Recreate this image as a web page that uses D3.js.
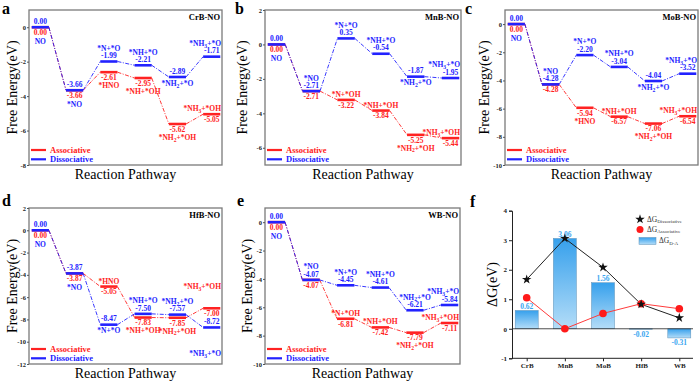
<!DOCTYPE html>
<html>
<head>
<meta charset="utf-8">
<script src="https://cdn.jsdelivr.net/npm/d3@7"></script>
<style>
  body { margin: 0; background: #fff; }
  text { font-family: "Liberation Serif", "Times New Roman", serif; }
</style>
</head>
<body>
<svg id="chart" width="700" height="381"></svg>
<script>
// ---- data: free energy (eV) of each step ----
const steps = [0, 1, 2, 3, 4, 5];
const dissNames = ["NO", "*NO", "*N+*O", "*NH+*O", "*NH2+*O", "*NH3+*O"];
const assoNamesHNO = ["", "", "*HNO", "*NH+*OH", "*NH2+*OH", "*NH3+*OH"];
const assoNamesNOH = ["", "", "*N+*OH", "*NH+*OH", "*NH2+*OH", "*NH3+*OH"];

const crbDiss = [0.00, -3.66, -1.99, -2.21, -2.89, -1.71];
const crbAsso = [0.00, -3.66, -2.61, -2.95, -5.62, -5.05];
const mnbDiss = [0.00, -2.71, 0.35, -0.54, -1.87, -1.95];
const mnbAsso = [0.00, -2.71, -3.22, -3.84, -5.25, -5.44];
const mobDiss = [0.00, -4.28, -2.20, -3.04, -4.04, -3.52];
const mobAsso = [0.00, -4.28, -5.94, -6.57, -7.06, -6.54];
const hfbDiss = [0.00, -3.87, -8.47, -7.50, -7.57, -8.72];
const hfbAsso = [0.00, -3.87, -5.05, -7.83, -7.85, -7.00];
const wbDiss = [0.00, -4.07, -4.45, -4.61, -6.21, -5.84];
const wbAsso = [0.00, -4.07, -6.81, -7.42, -7.79, -7.11];

// panel f
const fCats = ["CrB", "MnB", "MoB", "HfB", "WB"];
const fDiff = [0.62, 3.06, 1.56, -0.02, -0.31];
const fDiss = [1.67, 3.06, 2.08, 0.83, 0.37];
const fAsso = [1.05, 0.00, 0.52, 0.85, 0.68];

// label placement: u = above, d = below, U / D = further away
const crbDissPos = ["d", "d", "u", "u", "d", "u"], crbAssoPos = ["", "", "d", "d", "d", "u"];
const mnbDissPos = ["d", "u", "u", "u", "d", "u"], mnbAssoPos = ["", "", "u", "u", "d", "u"];
const mobDissPos = ["d", "u", "u", "u", "d", "u"], mobAssoPos = ["", "", "d", "u", "d", "u"];
const hfbDissPos = ["d", "d", "d", "u", "u", "D"], hfbAssoPos = ["", "", "u", "d", "d", "U"];
const wbDissPos = ["d", "u", "u", "u", "u", "u"], wbAssoPos = ["", "", "u", "u", "d", "u"];

const BLUE = "#2222ff", RED = "#ff2222";
const svg = d3.select("#chart");

const panels = [
  {letter: "a", lx: 2, ly: 14, title: "CrB-NO", x0: 29, x1: 222, y0: 10, y1: 165, ymin: -8, ymax: 1, ylab: 13,
   diss: crbDiss, asso: crbAsso, aNames: assoNamesHNO, dPos: crbDissPos, aPos: crbAssoPos},
  {letter: "b", lx: 235, ly: 14, title: "MnB-NO", x0: 265, x1: 461, y0: 10, y1: 165, ymin: -7, ymax: 2, ylab: 243,
   diss: mnbDiss, asso: mnbAsso, aNames: assoNamesNOH, dPos: mnbDissPos, aPos: mnbAssoPos},
  {letter: "c", lx: 465, ly: 14, title: "MoB-NO", x0: 505, x1: 698, y0: 10, y1: 165, ymin: -10, ymax: 1, ylab: 485,
   diss: mobDiss, asso: mobAsso, aNames: assoNamesHNO, dPos: mobDissPos, aPos: mobAssoPos},
  {letter: "d", lx: 2, ly: 206, title: "HfB-NO", x0: 29, x1: 222, y0: 208, y1: 364, ymin: -12, ymax: 2, ylab: 13,
   diss: hfbDiss, asso: hfbAsso, aNames: assoNamesHNO, dPos: hfbDissPos, aPos: hfbAssoPos},
  {letter: "e", lx: 237, ly: 206, title: "WB-NO", x0: 265, x1: 460, y0: 208, y1: 364, ymin: -10, ymax: 1, ylab: 248,
   diss: wbDiss, asso: wbAsso, aNames: assoNamesNOH, dPos: wbDissPos, aPos: wbAssoPos}
];

// species text: digits right after H become subscripts (NH2, NH3)
function richText(sel, str) {
  const parts = str.split(/(?<=H)(\d)/).filter(s => s !== "");
  let back = 0;
  parts.forEach(t => {
    if (/^\d$/.test(t)) {
      sel.append("tspan").attr("dy", 1.8).attr("font-size", "0.75em").text(t);
      back = -1.8;
    } else {
      const ts = sel.append("tspan").text(t);
      if (back) ts.attr("dy", back);
      back = 0;
    }
  });
}

function clampText(t, x0, x1) {
  const w = t.node().getComputedTextLength();
  const cx = +t.attr("x");
  if (cx + w / 2 > x1 - 1) t.attr("x", x1 - 1 - w / 2);
  if (cx - w / 2 < x0 + 1) t.attr("x", x0 + 1 + w / 2);
}

function drawPanel(p) {
  const g = svg.append("g");
  const x = d3.scaleLinear().domain([-0.08, 5.55]).range([p.x0, p.x1]);
  const y = d3.scaleLinear().domain([p.ymin, p.ymax]).range([p.y1, p.y0]);

  g.append("rect")
    .attr("x", p.x0).attr("y", p.y0)
    .attr("width", p.x1 - p.x0).attr("height", p.y1 - p.y0)
    .attr("fill", "none").attr("stroke", "#7a7a7a").attr("stroke-width", 1.3);

  const ticks = d3.range(-12, 3, 2).filter(v => v >= p.ymin && v <= p.ymax);
  const ax = g.append("g").attr("transform", `translate(${p.x0},0)`)
    .call(d3.axisLeft(y).tickValues(ticks).tickSize(2).tickPadding(1).tickFormat(d => String(d)));
  ax.select(".domain").remove();
  ax.selectAll("line").attr("stroke", "#555");
  ax.selectAll("text").attr("font-size", 6.5).attr("font-weight", "bold")
    .attr("font-family", "Liberation Serif, serif").attr("fill", "#222");

  // letter, title, axis titles
  svg.append("text").attr("x", p.lx).attr("y", p.ly).attr("font-size", 16).attr("font-weight", "bold").text(p.letter);
  g.append("text").attr("x", p.x1 - 2).attr("y", p.y0 + 10).attr("text-anchor", "end")
    .attr("font-size", 8.5).attr("font-weight", "bold").text(p.title);
  g.append("text").attr("transform", `translate(${p.ylab + 4},${(p.y0 + p.y1) / 2}) rotate(-90)`)
    .attr("text-anchor", "middle").attr("font-size", 14).text("Free Energy(eV)");
  g.append("text").attr("x", (p.x0 + p.x1) / 2).attr("y", p.y1 + 13.5)
    .attr("text-anchor", "middle").attr("font-size", 14).text("Reaction Pathway");

  // energy levels: associative first, dissociative on top
  [{vals: p.asso, color: RED}, {vals: p.diss, color: BLUE}].forEach(s => {
    g.append("g").selectAll("line").data(steps.slice(0, -1)).join("line")
      .attr("x1", i => x(i + 0.5)).attr("y1", i => y(s.vals[i]))
      .attr("x2", i => x(i + 1)).attr("y2", i => y(s.vals[i + 1]))
      .attr("stroke", s.color).attr("stroke-width", 0.9).attr("stroke-dasharray", "4,1.5,1,1.5");
    g.append("g").selectAll("line").data(steps).join("line")
      .attr("x1", i => x(i)).attr("x2", i => x(i + 0.5))
      .attr("y1", i => y(s.vals[i])).attr("y2", i => y(s.vals[i]))
      .attr("stroke", s.color).attr("stroke-width", 2.6);
  });

  const lab = (cx, cy, color, str, rich) => {
    const t = g.append("text").attr("x", cx).attr("y", cy).attr("text-anchor", "middle")
      .attr("font-size", 7.5).attr("font-weight", "bold").attr("fill", color);
    if (rich) richText(t, str); else t.text(str);
    clampText(t, p.x0, p.x1);
    return t;
  };

  steps.forEach(i => {
    const cx = x(i + 0.25);
    const yd = y(p.diss[i]), ya = y(p.asso[i]);
    lab(cx, yd - 3.3, BLUE, p.diss[i].toFixed(2));
    lab(cx, ya + 7.8, RED, p.asso[i].toFixed(2));
    const same = p.diss[i] === p.asso[i];
    const dOff = {u: -10.6, d: same ? 16.8 : 8.8, D: 29};
    lab(cx, yd + dOff[p.dPos[i]], BLUE, dissNames[i], true);
    if (p.aNames[i]) {
      const aOff = {u: -3, U: -19, d: 15.8};
      lab(cx, ya + aOff[p.aPos[i]], RED, p.aNames[i], true);
    }
  });

  // legend
  [["Associative", RED, p.y1 - 15], ["Dissociative", BLUE, p.y1 - 5.7]].forEach(([name, c, ly]) => {
    g.append("line").attr("x1", p.x0 + 2).attr("x2", p.x0 + 17).attr("y1", ly).attr("y2", ly)
      .attr("stroke", c).attr("stroke-width", 2.2);
    g.append("text").attr("x", p.x0 + 21).attr("y", ly + 2.8).attr("font-size", 8.5)
      .attr("font-weight", "bold").attr("fill", c).text(name);
  });
}

panels.forEach(drawPanel);

// ---- panel f ----
(function () {
  const x0 = 512, x1 = 693;
  const fx = d3.scalePoint().domain(fCats).range([526.7, 679.3]);
  const fy = d3.scaleLinear().domain([-1, 4]).range([358.3, 210.7]);
  const g = svg.append("g");

  const defs = svg.append("defs");
  const grad = defs.append("linearGradient").attr("id", "barGrad").attr("x1", 0).attr("y1", 0).attr("x2", 0).attr("y2", 1);
  grad.append("stop").attr("offset", "0%").attr("stop-color", "#36a0ec");
  grad.append("stop").attr("offset", "100%").attr("stop-color", "#b4ddf8");

  svg.append("text").attr("x", 470).attr("y", 207).attr("font-size", 16).attr("font-weight", "bold").text("f");

  const bw = 23;
  g.append("g").selectAll("rect").data(fCats).join("rect")
    .attr("x", (c) => fx(c) - bw / 2)
    .attr("y", (c, i) => fy(Math.max(0, fDiff[i])))
    .attr("width", bw)
    .attr("height", (c, i) => Math.abs(fy(fDiff[i]) - fy(0)))
    .attr("fill", "url(#barGrad)").attr("stroke", "#5d8fb5").attr("stroke-width", 0.5);

  g.append("line").attr("x1", x0).attr("x2", x1).attr("y1", fy(0)).attr("y2", fy(0))
    .attr("stroke", "#222").attr("stroke-width", 0.8);

  g.append("g").selectAll("text").data(fCats).join("text")
    .attr("x", c => fx(c))
    .attr("y", (c, i) => fDiff[i] >= 0 ? fy(fDiff[i]) - 1.5 : fy(fDiff[i]) + 7.5)
    .attr("text-anchor", "middle").attr("font-size", 7.5).attr("font-weight", "bold")
    .attr("fill", "#3aa6f0").text((c, i) => fDiff[i].toFixed(2));

  const line = d3.line().x((d, i) => fx(fCats[i])).y(d => fy(d));
  g.append("path").datum(fAsso).attr("d", line).attr("fill", "none").attr("stroke", "#ff3b3b").attr("stroke-width", 1);
  g.append("path").datum(fDiss).attr("d", line).attr("fill", "none").attr("stroke", "#222").attr("stroke-width", 1);

  g.append("g").selectAll("circle").data(fAsso).join("circle")
    .attr("cx", (d, i) => fx(fCats[i])).attr("cy", d => fy(d)).attr("r", 3.8).attr("fill", "#ff1a1a");
  const star = d3.symbol().type(d3.symbolStar).size(28);
  g.append("g").selectAll("path").data(fDiss).join("path")
    .attr("transform", (d, i) => `translate(${fx(fCats[i])},${fy(d)})`).attr("d", star).attr("fill", "#111");

  const yAx = g.append("g").attr("transform", `translate(${x0},0)`)
    .call(d3.axisLeft(fy).ticks(5).tickSize(3).tickPadding(2).tickFormat(d => String(d)));
  const xAx = g.append("g").attr("transform", `translate(0,${fy(-1)})`)
    .call(d3.axisBottom(fx).tickSize(3).tickPadding(2));
  xAx.select(".domain").attr("d", `M${x0},0H${x1}`);
  [yAx, xAx].forEach(a => {
    a.selectAll("text").attr("font-size", 7).attr("font-weight", "bold").attr("font-family", "Liberation Serif, serif").attr("fill", "#222");
    a.selectAll("line,path").attr("stroke", "#222");
  });

  g.append("text").attr("transform", `translate(497,${fy(1.5)}) rotate(-90)`)
    .attr("text-anchor", "middle").attr("font-size", 14).text("ΔG(eV)");

  // legend
  const lg = g.append("g");
  lg.append("path").attr("transform", "translate(640,219.3)").attr("d", star).attr("fill", "#111");
  lg.append("circle").attr("cx", 640).attr("cy", 229.5).attr("r", 3.5).attr("fill", "#ff1a1a");
  lg.append("rect").attr("x", 639).attr("y", 237.5).attr("width", 17).attr("height", 7)
    .attr("fill", "url(#barGrad)").attr("stroke", "#5d8fb5").attr("stroke-width", 0.5);
  [["Dissociative", 647, 221.5], ["Associative", 647, 231.5], ["D-A", 659, 243]].forEach(([sub, tx, ty]) => {
    const t = lg.append("text").attr("x", tx).attr("y", ty).attr("font-size", 7.5).attr("fill", "#333");
    t.append("tspan").text("ΔG");
    t.append("tspan").attr("dy", 1.8).attr("font-size", 5).text(sub);
  });
})();
</script>
</body>
</html>
